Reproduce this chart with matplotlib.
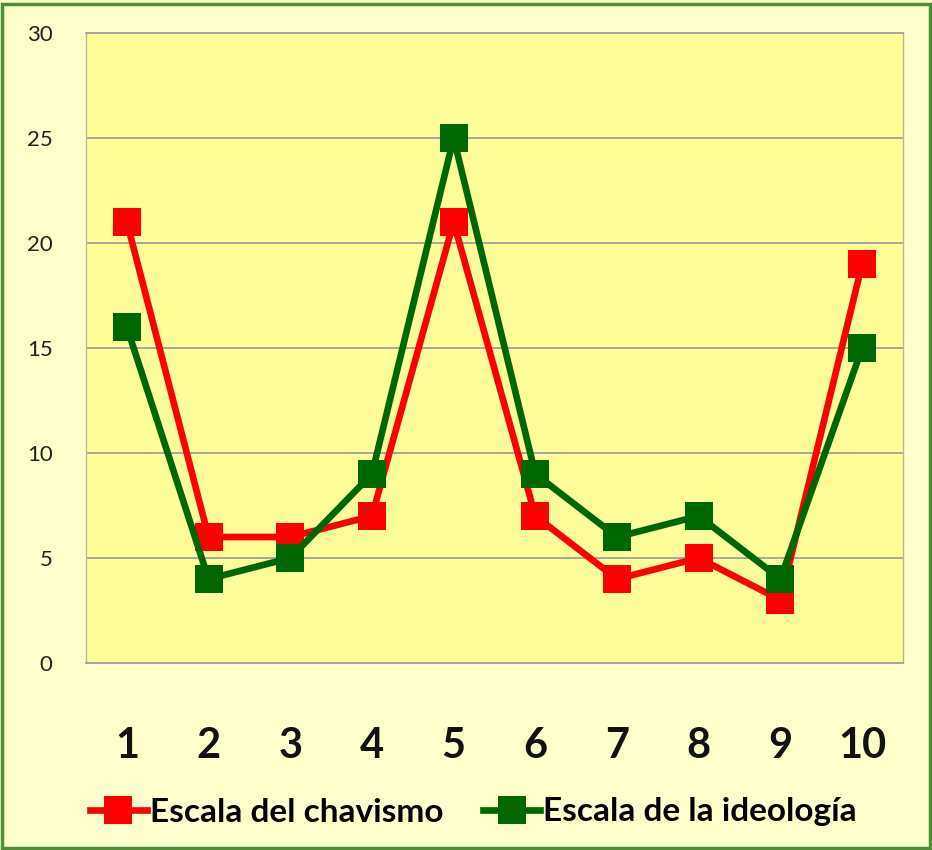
import matplotlib
matplotlib.use("Agg")
import matplotlib.pyplot as plt
from matplotlib.patches import Rectangle
from matplotlib.lines import Line2D

categories = ["1", "2", "3", "4", "5", "6", "7", "8", "9", "10"]
chavismo = [21, 6, 6, 7, 21, 7, 4, 5, 3, 19]
ideologia = [16, 4, 5, 9, 25, 9, 6, 7, 4, 15]
series_names = ["Escala del chavismo", "Escala de la ideología"]
yticks = [0, 5, 10, 15, 20, 25, 30]

plt.rcParams['font.family'] = ['Lato', 'DejaVu Sans']

fig = plt.figure(figsize=(9.32, 8.5), dpi=100)
fig.patch.set_facecolor('#FFFFCC')
fig.patches.append(Rectangle((0.002, 0.002), 0.996, 0.993, transform=fig.transFigure,
                             fill=False, edgecolor='#4E8F3A', linewidth=2.5, zorder=10))

ax = fig.add_axes([86/932, 1-663/850, (903-86)/932, (663-33)/850])
ax.set_facecolor('#FFFF99')
x = list(range(1, len(categories)+1))

ax.plot(x, chavismo, color='#FF0000', lw=4.8, marker='s', ms=20,
        markeredgewidth=0, solid_joinstyle='round', zorder=3)
ax.plot(x, ideologia, color='#006600', lw=4.8, marker='s', ms=20,
        markeredgewidth=0, solid_joinstyle='round', zorder=4)

ax.set_xlim(0.5, 10.5)
ax.set_ylim(0, 30)
ax.set_yticks(yticks)
ax.set_yticklabels([str(v) for v in yticks], fontsize=16, color='#222222')
ax.set_xticks(x)
ax.set_xticklabels(categories, fontsize=30, fontweight='bold', color='#111111')
ax.tick_params(axis='y', length=0, pad=24)
ax.tick_params(axis='x', length=0, pad=46)
ax.grid(axis='y', color='#A0A0A0', linewidth=1.3)
ax.set_axisbelow(True)
ax.spines['top'].set_color('#A0A0A0')
ax.spines['top'].set_linewidth(1.3)
ax.spines['bottom'].set_color('#A0A0A0')
ax.spines['bottom'].set_linewidth(1.3)
for s in ['left', 'right']:
    ax.spines[s].set_color('#B8B890')
    ax.spines[s].set_linewidth(1.0)

handles = [Line2D([], [], color='#FF0000', lw=4.8, marker='s', ms=20, markeredgewidth=0),
           Line2D([], [], color='#006600', lw=4.8, marker='s', ms=20, markeredgewidth=0)]
fig.legend(handles, series_names, loc='center', bbox_to_anchor=(0.508, 1-812/850),
           ncol=2, frameon=False, prop={'size': 24, 'weight': 'bold'},
           handlelength=1.7, handletextpad=0.1, columnspacing=1.2)

fig.savefig('out.png', dpi=100, facecolor=fig.get_facecolor())
